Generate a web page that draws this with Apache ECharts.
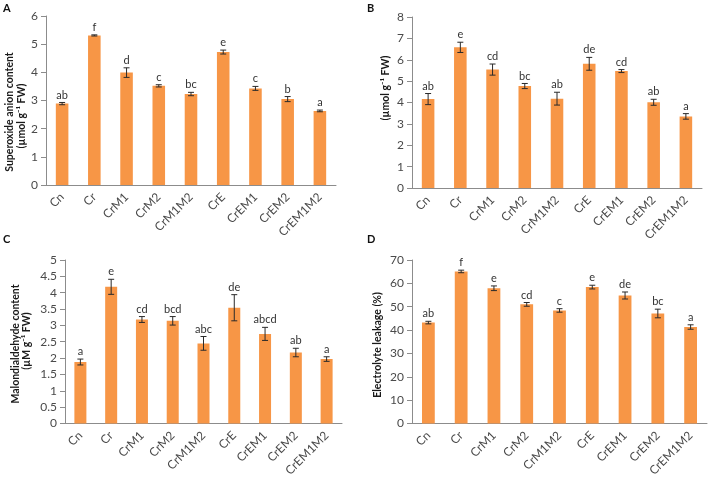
<!DOCTYPE html>
<html>
<head>
<meta charset="utf-8">
<script src="https://cdn.jsdelivr.net/npm/echarts@6/dist/echarts.min.js"></script>
<style>
  html, body { margin: 0; padding: 0; background: #fff; }
  #chart { width: 708px; height: 479px; }
</style>
</head>
<body>
<div id="chart"></div>
<script>
// categories shared by all four panels
const categories = ['Cn', 'Cr', 'CrM1', 'CrM2', 'CrM1M2', 'CrE', 'CrEM1', 'CrEM2', 'CrEM1M2'];

// A - superoxide anion content
const superoxide = [2.89, 5.31, 3.99, 3.52, 3.23, 4.72, 3.43, 3.05, 2.63];
const superoxideErr = [0.04, 0.02, 0.17, 0.04, 0.06, 0.07, 0.07, 0.09, 0.03];
const superoxideLetters = ['ab', 'f', 'd', 'c', 'bc', 'e', 'c', 'b', 'a'];

// B - H2O2 (umol g-1 FW)
const hydrogen = [4.16, 6.58, 5.54, 4.77, 4.18, 5.81, 5.47, 4.01, 3.35];
const hydrogenErr = [0.26, 0.24, 0.26, 0.12, 0.3, 0.3, 0.07, 0.14, 0.13];
const hydrogenLetters = ['ab', 'e', 'cd', 'bc', 'ab', 'de', 'cd', 'ab', 'a'];

// C - malondialdehyde content
const mda = [1.88, 4.18, 3.18, 3.14, 2.45, 3.54, 2.74, 2.17, 1.97];
const mdaErr = [0.09, 0.23, 0.09, 0.13, 0.21, 0.4, 0.2, 0.13, 0.07];
const mdaLetters = ['a', 'e', 'cd', 'bcd', 'abc', 'de', 'abcd', 'ab', 'a'];

// D - electrolyte leakage (%)
const leakage = [43.2, 65.1, 57.9, 51.0, 48.4, 58.4, 54.8, 47.1, 41.3];
const leakageErr = [0.55, 0.55, 1.0, 0.8, 0.75, 0.8, 1.5, 1.85, 0.95];
const leakageLetters = ['ab', 'f', 'e', 'cd', 'c', 'e', 'de', 'bc', 'a'];

const yTicks = [
  { max: 6, interval: 1 },
  { max: 8, interval: 1 },
  { max: 5, interval: 0.5 },
  { max: 70, interval: 10 }
];

const FONT = 'Lato';
const AXIS = '#8c8c8c';
const TXT = '#4a4a4a';
const BAR = '#F79646';

const grids = [
  { left: 46, top: 16, width: 290, height: 169 },
  { left: 412, top: 17, width: 290, height: 171 },
  { left: 65, top: 260, width: 277, height: 174 },
  { left: 412, top: 260, width: 295, height: 169 }
];

const panels = [
  [superoxide, superoxideErr, superoxideLetters],
  [hydrogen, hydrogenErr, hydrogenLetters],
  [mda, mdaErr, mdaLetters],
  [leakage, leakageErr, leakageLetters]
];

const xAxes = grids.map((g, i) => ({
  type: 'category', gridIndex: i, data: categories,
  axisLine: { lineStyle: { color: AXIS, width: 1 } },
  axisTick: { length: 5, lineStyle: { color: AXIS } },
  axisLabel: { rotate: 45, fontFamily: FONT, fontSize: 12, color: TXT, margin: 10, interval: 0 }
}));

const yAxes = grids.map((g, i) => ({
  type: 'value', gridIndex: i, min: 0, max: yTicks[i].max, interval: yTicks[i].interval,
  splitLine: { show: false },
  axisLine: { show: true, lineStyle: { color: AXIS, width: 1 } },
  axisTick: { show: true, length: 5, lineStyle: { color: AXIS } },
  axisLabel: { fontFamily: FONT, fontSize: 12, color: TXT, margin: 8 }
}));

function errorSeries(idx, values, errs, letters) {
  return {
    type: 'custom', xAxisIndex: idx, yAxisIndex: idx, z: 5, silent: true,
    data: values.map((v, i) => [i, v, errs[i]]),
    renderItem: function (params, api) {
      const i = api.value(0), v = api.value(1), e = api.value(2);
      const top = api.coord([i, v + e]);
      const bot = api.coord([i, v - e]);
      const h = 3;
      const st = { stroke: '#2a2a2a', lineWidth: 1 };
      return {
        type: 'group',
        children: [
          { type: 'line', shape: { x1: top[0], y1: top[1], x2: bot[0], y2: bot[1] }, style: st },
          { type: 'line', shape: { x1: top[0] - h, y1: top[1], x2: top[0] + h, y2: top[1] }, style: st },
          { type: 'line', shape: { x1: bot[0] - h, y1: bot[1], x2: bot[0] + h, y2: bot[1] }, style: st },
          {
            type: 'text',
            style: {
              text: letters[params.dataIndex], x: top[0], y: top[1] - 2,
              textAlign: 'center', textVerticalAlign: 'bottom',
              font: '11px ' + FONT, fill: '#333'
            }
          }
        ]
      };
    }
  };
}

const series = [];
panels.forEach((p, i) => {
  series.push({
    type: 'bar', xAxisIndex: i, yAxisIndex: i, data: p[0],
    barWidth: '39%', itemStyle: { color: BAR }, silent: true
  });
  series.push(errorSeries(i, p[0], p[1], p[2]));
});

function vText(text, x, y) {
  return {
    type: 'text', x: x, y: y, rotation: Math.PI / 2,
    style: { text: text, textAlign: 'center', textVerticalAlign: 'middle',
      font: 'bold 10.5px ' + FONT, fill: '#1a1a1a' }
  };
}
function letter(text, x, y) {
  return {
    type: 'text', x: x, y: y,
    style: { text: text, font: 'bold 11px ' + FONT, fill: '#111', textVerticalAlign: 'top' }
  };
}

const graphic = [
  letter('A', 3, 3), letter('B', 367, 3), letter('C', 3, 234), letter('D', 367, 234),
  vText('Superoxide anion content', 10, 112),
  vText('(µmol g⁻¹ FW)', 22, 116),
  vText('(µmol g⁻¹ FW)', 386, 88),
  vText('Malondialdehyde content', 16, 344),
  vText('(µM g⁻¹ FW)', 27, 341),
  vText('Electrolyte leakage (%)', 378, 345)
];

const chart = echarts.init(document.getElementById('chart'));
chart.setOption({
  backgroundColor: '#fff',
  animation: false,
  grid: grids,
  xAxis: xAxes,
  yAxis: yAxes,
  series: series,
  graphic: graphic
});
</script>
</body>
</html>
